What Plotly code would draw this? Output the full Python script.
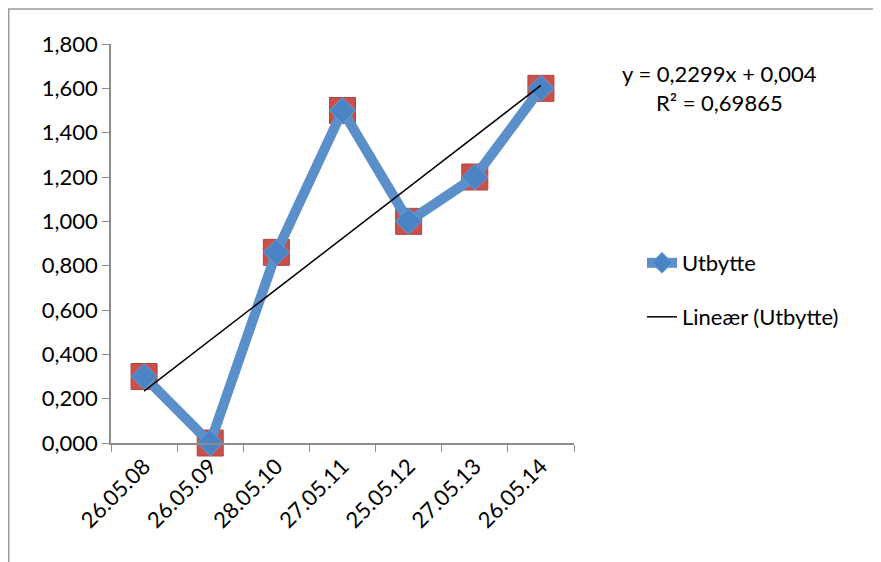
import plotly.graph_objects as go

dates = ["26.05.08", "26.05.09", "28.05.10", "27.05.11", "25.05.12", "27.05.13", "26.05.14"]
utbytte = [0.30, 0.00, 0.86, 1.50, 1.00, 1.20, 1.60]
trend_slope = 0.2299
trend_intercept = 0.004
y_ticks = [0.0, 0.2, 0.4, 0.6, 0.8, 1.0, 1.2, 1.4, 1.6, 1.8]
y_tick_labels = ["0,000", "0,200", "0,400", "0,600", "0,800", "1,000", "1,200", "1,400", "1,600", "1,800"]
eq_text = "y = 0,2299x + 0,004"
r2_text = "R² = 0,69865"

trend = [trend_slope * (i + 1) + trend_intercept for i in range(len(dates))]

FONT = "Lato, 'Open Sans', sans-serif"
FS = 22
OFF = 8  # page body margin
W, H = 881 - OFF, 562 - OFF
# plot area in page pixels
PL, PR, PT, PB = 111, 574, 44, 443
L, R, T, B = PL - OFF, PR - OFF, PT - OFF, PB - OFF


def px(xpage):
    return (xpage - OFF - L) / (R - L)


def py(ypage):
    return (B - (ypage - OFF)) / (B - T)


fig = go.Figure()
fig.add_trace(go.Scatter(
    x=dates, y=utbytte, mode="markers", cliponaxis=False,
    marker=dict(symbol="square", size=26, color="#C9504B",
                line=dict(color="#B0443F", width=1)),
    showlegend=False, hoverinfo="skip"))
fig.add_trace(go.Scatter(
    x=dates, y=utbytte, mode="lines+markers", name="Utbytte", cliponaxis=False,
    line=dict(color="#5B8FC9", width=10),
    marker=dict(symbol="diamond", size=20, color="#4A84C4",
                line=dict(color="#6A9BD2", width=1)),
    legend="legend"))
fig.add_trace(go.Scatter(
    x=dates, y=trend, mode="lines", name="Lineær (Utbytte)",
    line=dict(color="black", width=1.5),
    legend="legend2"))

leg_common = dict(xanchor="left", yanchor="middle",
                  font=dict(family=FONT, size=FS, color="black"),
                  bgcolor="rgba(0,0,0,0)", itemwidth=30)

fig.update_layout(
    width=W, height=H,
    margin=dict(l=L, r=W - R, t=T, b=H - B, autoexpand=False),
    paper_bgcolor="white", plot_bgcolor="white",
    font=dict(family=FONT, size=FS, color="black"),
    xaxis=dict(type="category", range=[-0.5, 6.5], showgrid=False,
               showline=True, linecolor="#8C8C8C", linewidth=1.5,
               ticks="outside", ticklen=7, tickcolor="#8C8C8C",
               tickson="boundaries", tickangle=-45,
               tickfont=dict(family=FONT, size=FS)),
    yaxis=dict(range=[0, 1.8], showgrid=False, zeroline=False,
               showline=True, linecolor="#8C8C8C", linewidth=1.5,
               ticks="outside", ticklen=7, tickcolor="#8C8C8C",
               tickvals=y_ticks, ticktext=y_tick_labels,
               tickfont=dict(family=FONT, size=FS)),
    legend=dict(x=px(642), y=py(263), **leg_common),
    legend2=dict(x=px(642), y=py(317), **leg_common),
    annotations=[
        dict(text=eq_text + "<br>" + r2_text, xref="paper", yref="paper",
             x=px(719), y=py(58),
             xanchor="center", yanchor="top", showarrow=False, align="center",
             font=dict(family=FONT, size=FS)),
    ],
    shapes=[
        dict(type="line", xref="paper", yref="paper",
             x0=px(OFF + 0.75), x1=px(OFF + 0.75),
             y0=py(9), y1=py(600),
             line=dict(color="#9A9A9A", width=1.5)),
        dict(type="line", xref="paper", yref="paper",
             x0=px(OFF), x1=px(900),
             y0=py(9), y1=py(9),
             line=dict(color="#9A9A9A", width=1.5)),
    ],
)

fig.write_html("out.html")
